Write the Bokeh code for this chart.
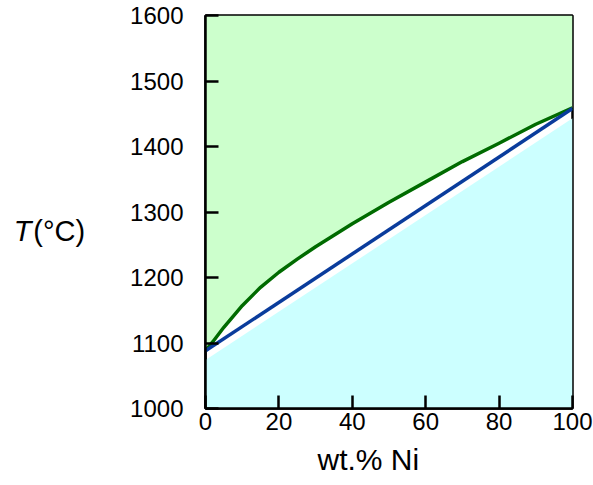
from bokeh.plotting import figure
from bokeh.models import Range1d, FixedTicker, LinearAxis, Title
from bokeh.embed import file_html
from bokeh.resources import INLINE

# Data (wt.% Ni, temperature in °C)
liq_x = [0, 2, 5, 10, 15, 20, 25, 30, 40, 50, 60, 70, 80, 90, 100]
liq_t = [1088, 1102, 1124, 1157, 1185, 1208, 1228, 1247, 1282, 1315, 1346, 1377, 1405, 1434, 1459]
sol_x = [0, 100]
sol_t = [1088, 1458]
alpha_x = [0, 100]
alpha_t = [1074, 1443]

x_ticks = [0, 20, 40, 60, 80, 100]
y_ticks = [1000, 1100, 1200, 1300, 1400, 1500, 1600]

FONT = "Liberation Sans"

p = figure(width=593, height=485, output_backend="svg", toolbar_location=None,
           x_range=Range1d(0, 100), y_range=Range1d(1000, 1600),
           min_border_left=205, min_border_right=21, min_border_top=15, min_border_bottom=77)

p.background_fill_color = "white"
p.border_fill_color = "white"
p.xgrid.visible = False
p.ygrid.visible = False
p.outline_line_color = "black"
p.outline_line_width = 2.5

# regions
p.varea(x=liq_x, y1=liq_t, y2=[1600] * len(liq_x), fill_color="#ccffcc")
p.varea(x=alpha_x, y1=[1000] * len(alpha_x), y2=alpha_t, fill_color="#ccffff")

# lines
p.line(liq_x, liq_t, line_color="#006b00", line_width=3.5, line_join="round")
p.line(sol_x, sol_t, line_color="#0a3c9c", line_width=3.5)

for ax in (p.xaxis, p.yaxis):
    ax.axis_line_color = "black"
    ax.axis_line_width = 2.5
    ax.major_tick_line_color = "black"
    ax.major_tick_line_width = 2.5
    ax.major_tick_in = 13
    ax.major_tick_out = 0
    ax.minor_tick_line_color = None
    ax.major_label_text_font = FONT
    ax.major_label_text_font_size = "24px"
    ax.major_label_text_color = "black"

p.xaxis.ticker = FixedTicker(ticks=x_ticks)
p.yaxis.ticker = FixedTicker(ticks=y_ticks)
p.xaxis.major_label_standoff = 4
p.yaxis.major_label_standoff = 22

# y axis title: italic T + (°C)
p.yaxis.axis_label = "\n(°C)"
p.yaxis.axis_label_orientation = "horizontal"
p.yaxis.axis_label_text_font = FONT
p.yaxis.axis_label_text_font_size = "29px"
p.yaxis.axis_label_text_font_style = "normal"
p.yaxis.axis_label_text_color = "black"
p.yaxis.axis_label_standoff = 42

t_axis = LinearAxis(axis_label="\nT", ticker=FixedTicker(ticks=[]),
                    axis_line_color=None, major_tick_line_color=None,
                    minor_tick_line_color=None, major_label_text_font_size="0px",
                    axis_label_orientation="horizontal", axis_label_standoff=-1,
                    axis_label_text_font=FONT, axis_label_text_font_size="29px",
                    axis_label_text_font_style="italic", axis_label_text_color="black")
p.add_layout(t_axis, "left")

# x axis title, shifted left like the reference
p.add_layout(Title(text="wt.% Ni", align="left", offset=112, standoff=17,
                   text_line_height=0.7,
                   text_font=FONT, text_font_size="30px", text_font_style="normal",
                   text_color="black"), "below")

open("out.html", "w").write(file_html(p, INLINE))
